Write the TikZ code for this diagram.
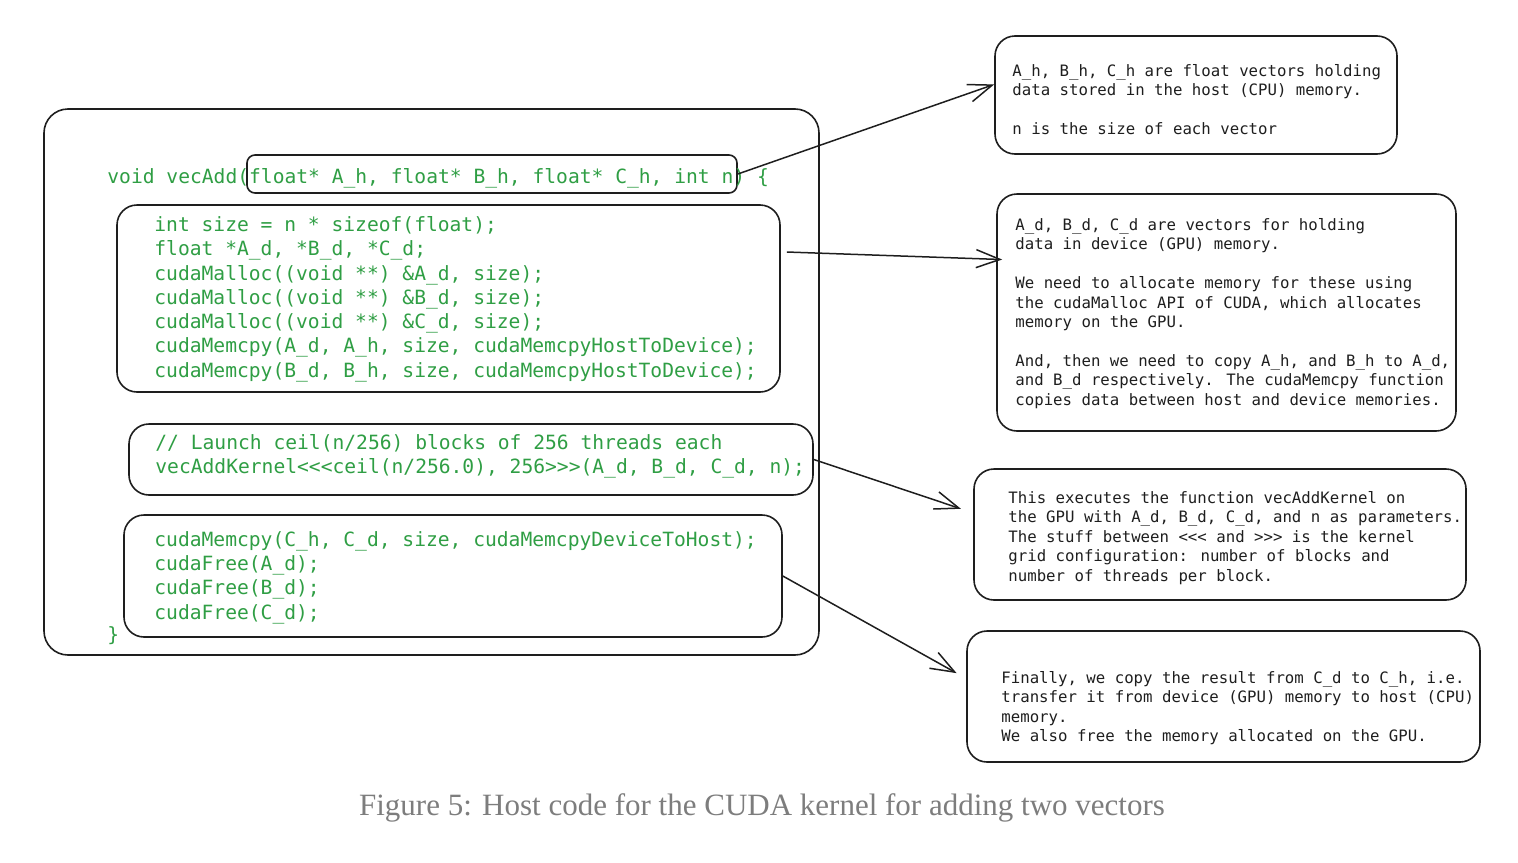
\documentclass[tikz,border=0pt]{standalone}
\usepackage{fontspec}
\setmainfont{Liberation Serif}
\newfontfamily\codefont{DejaVu Sans Mono}
\usetikzlibrary{arrows.meta,fit}
\definecolor{codegreen}{RGB}{47,158,68}
\definecolor{linegray}{RGB}{30,30,30}
\definecolor{captiongray}{RGB}{125,125,125}
\tikzset{
	sketchbox/.style={draw=linegray, line width=0.8pt, rounded corners=#1, inner sep=0pt},
	sketchbox/.default=10pt,
	code/.style={text=codegreen, font=\codefont\fontsize{9.81}{12.15}\selectfont, align=left, inner sep=0pt, anchor=north west},
	note/.style={text=linegray, font=\codefont\fontsize{7.85}{9.7}\selectfont, align=left, inner sep=0pt, anchor=north west},
	link/.style={draw=linegray, line width=0.75pt, -{Straight Barb[length=12pt,width=9pt]}},
}
\begin{document}
		\begin{tikzpicture}[x=0.5pt,y=-0.5pt]
			\useasboundingbox (0,0) rectangle (1518,862);
			% code boxes
			\node [sketchbox=12pt, fit={(44,109) (819,655)}] (main) {};
			\node [sketchbox=4pt, fit={(247,155) (737,193)}] (params) {};
			\node [sketchbox, fit={(117,205) (780,392)}] (alloc) {};
			\node [sketchbox, fit={(129,424) (813,495)}] (launch) {};
			\node [sketchbox, fit={(124,515) (782,637)}] (copyback) {};
			% note boxes
			\node [sketchbox, fit={(995,36) (1397,154)}] (hostnote) {};
			\node [sketchbox, fit={(997,194) (1456,431)}] (devnote) {};
			\node [sketchbox, fit={(974,469) (1466,600)}] (kernelnote) {};
			\node [sketchbox, fit={(967,631) (1480,762)}] (freenote) {};
			% code
			\node [code, anchor=base west] (sig) at (107,183) {void vecAdd(float* A\_h, float* B\_h, float* C\_h, int n) \{};
			\node [code] (alloccode) at (154,216) {int size = n * sizeof(float);\\
				float *A\_d, *B\_d, *C\_d;\\
				cudaMalloc((void **) \&A\_d, size);\\
				cudaMalloc((void **) \&B\_d, size);\\
				cudaMalloc((void **) \&C\_d, size);\\
				cudaMemcpy(A\_d, A\_h, size, cudaMemcpyHostToDevice);\\
				cudaMemcpy(B\_d, B\_h, size, cudaMemcpyHostToDevice);};
			\node [code] (launchcode) at (155,434) {// Launch ceil(n/256) blocks of 256 threads each\\
				vecAddKernel<<<ceil(n/256.0), 256>>>(A\_d, B\_d, C\_d, n);};
			\node [code] (copycode) at (154,531) {cudaMemcpy(C\_h, C\_d, size, cudaMemcpyDeviceToHost);\\
				cudaFree(A\_d);\\
				cudaFree(B\_d);\\
				cudaFree(C\_d);};
			\node [code, anchor=base west] (close) at (107,641) {\}};
			% notes
			\node [note] (hosttext) at (1012,64) {A\_h, B\_h, C\_h are float vectors holding\\
				data stored in the host (CPU) memory.\\
				\\
				n is the size of each vector};
			\node [note] (devtext) at (1015,218) {A\_d, B\_d, C\_d are vectors for holding\\
				data in device (GPU) memory.\\
				\\
				We need to allocate memory for these using\\
				the cudaMalloc API of CUDA, which allocates\\
				memory on the GPU.\\
				\\
				And, then we need to copy A\_h, and B\_h to A\_d,\\
				and B\_d respectively. The cudaMemcpy function\\
				copies data between host and device memories.};
			\node [note] (kerneltext) at (1008,491) {This executes the function vecAddKernel on\\
				the GPU with A\_d, B\_d, C\_d, and n as parameters.\\
				The stuff between <<< and >>> is the kernel\\
				grid configuration: number of blocks and\\
				number of threads per block.};
			\node [note] (freetext) at (1001,671) {Finally, we copy the result from C\_d to C\_h, i.e.\\
				transfer it from device (GPU) memory to host (CPU)\\
				memory.\\
				We also free the memory allocated on the GPU.};
			% arrows
			\draw [link] (params.east) -- (hostnote.177);
			\draw [link, shorten <=3pt, shorten >=-3pt] (alloc.8) -- (devnote.167.6);
			\draw [link, shorten >=6.5pt] (launch.east) -- (kernelnote.175);
			\draw [link, shorten >=5.5pt] (copyback.east) -- (freenote.176);
			% caption
			\node [text=captiongray, font=\fontsize{15.5}{18}\selectfont] (caption) at (762,808) {Figure 5: Host code for the CUDA kernel for adding two vectors};
		\end{tikzpicture}
\end{document}
